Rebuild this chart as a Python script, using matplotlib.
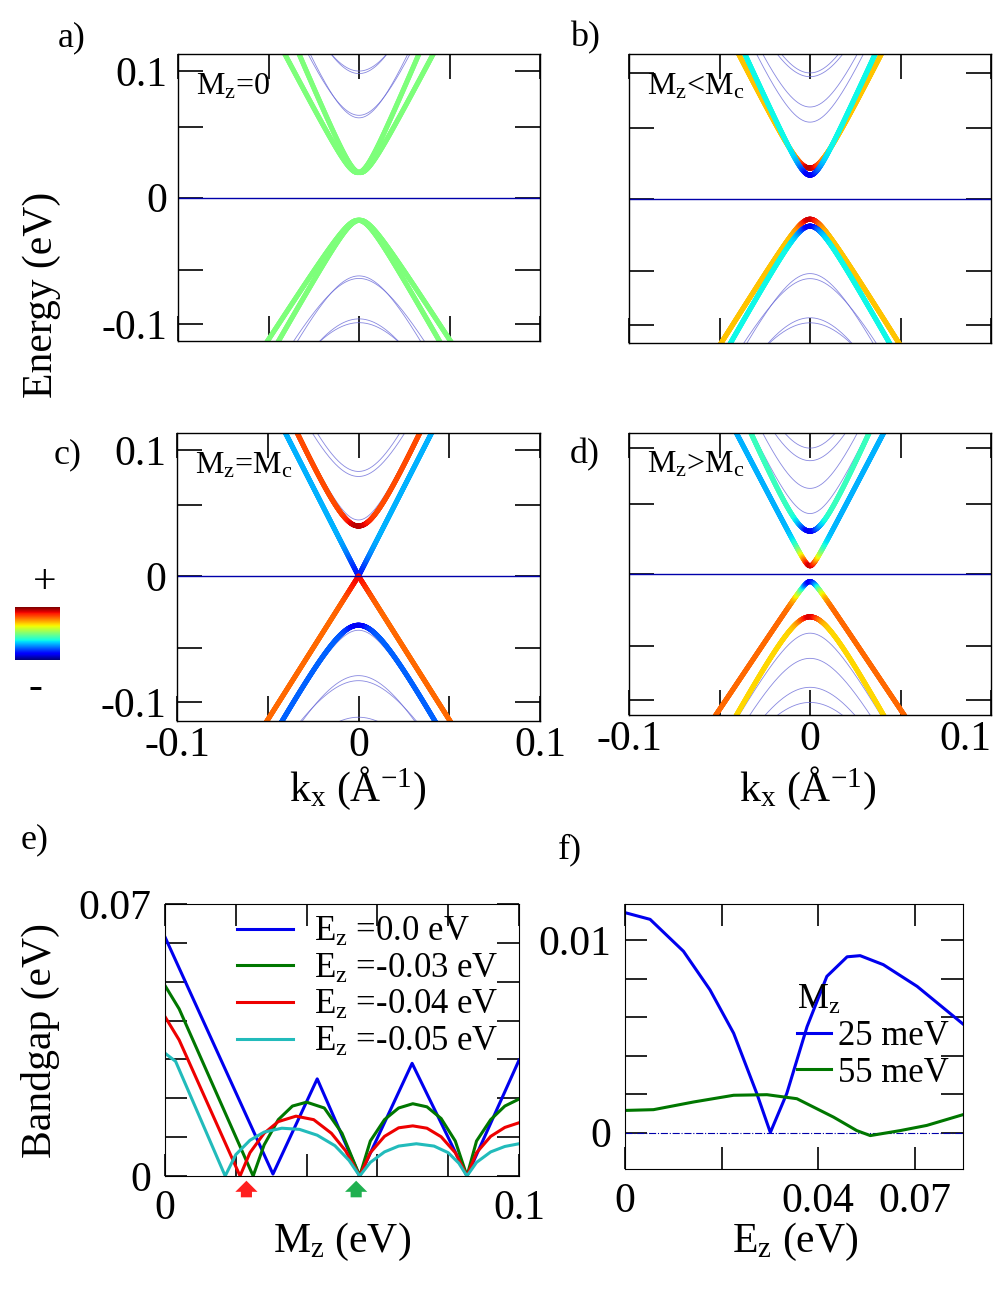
import numpy as np
import matplotlib
matplotlib.use("Agg")
import matplotlib.pyplot as plt
from matplotlib.collections import LineCollection

plt.rcParams['font.family'] = ['Liberation Serif', 'DejaVu Serif']
plt.rcParams['mathtext.fontset'] = 'custom'
plt.rcParams['mathtext.rm'] = 'Liberation Serif'
plt.rcParams['mathtext.it'] = 'Liberation Serif:italic'

W, H = 998, 1292

# ---------------- band data (gap m, velocity v, Rashba a, colour base, colour centre) ----
# panel a
a_cond = [(0.0198, 3.05, 0.32, 0.50, 0.50), (0.0198, 3.05, -0.32, 0.50, 0.50)]
a_val = [(0.018, 2.37, 0.15, 0.50, 0.50), (0.018, 2.37, -0.15, 0.50, 0.50)]
a_thin_c = [(0.098, 3.7), (0.100, 3.5), (0.063, 3.5), (0.065, 3.3)]
a_thin_v = [(0.062, 2.8), (0.064, 2.6), (0.096, 2.8), (0.099, 2.6)]
# panel b
b_cond = [(0.0246, 2.85, 0.0, 0.70, 0.95), (0.019, 3.15, 0.0, 0.37, 0.10)]
b_val = [(0.0159, 2.30, 0.0, 0.70, 0.93), (0.0214, 2.55, 0.0, 0.37, 0.10)]
b_thin_c = [(0.100, 3.6), (0.097, 3.4), (0.073, 3.4), (0.061, 3.3)]
b_thin_v = [(0.059, 2.8), (0.063, 2.6), (0.094, 2.8), (0.098, 2.6)]
# panel c
c_cond = [(0.0, 2.82, 0.0, 0.30, 0.15), (0.0397, 3.15, 0.0, 0.83, 0.95)]
c_val = [(0.0, 2.28, 0.0, 0.80, 0.90), (0.039, 2.57, 0.0, 0.22, 0.10)]
c_thin_c = [(0.083, 3.4), (0.079, 3.2), (0.0445, 3.2)]
c_thin_v = [(0.043, 2.6), (0.079, 2.7), (0.083, 2.5), (0.112, 2.6)]
# panel d
d_cond = [(0.0065, 2.75, 0.0, 0.30, 0.93), (0.034, 3.27, 0.0, 0.42, 0.10)]
d_val = [(0.006, 2.15, 0.0, 0.80, 0.12), (0.034, 2.63, 0.0, 0.68, 0.92)]
d_thin_c = [(0.100, 3.6), (0.090, 3.4), (0.068, 3.4), (0.048, 3.2)]
d_thin_v = [(0.047, 2.6), (0.067, 2.7), (0.090, 2.7), (0.102, 2.6)]

panel_letters = ['a)', 'b)', 'c)', 'd)', 'e)', 'f)']
panel_texts = [r'M$_\mathrm{z}$=0', r'M$_\mathrm{z}$<M$_\mathrm{c}$',
               r'M$_\mathrm{z}$=M$_\mathrm{c}$', r'M$_\mathrm{z}$>M$_\mathrm{c}$']

# ---------------- panel e data ----------------
e_labels = [r'E$_\mathrm{z}$ =0.0 eV', r'E$_\mathrm{z}$ =-0.03 eV',
            r'E$_\mathrm{z}$ =-0.04 eV', r'E$_\mathrm{z}$ =-0.05 eV']
e_colors = ['#0000ee', '#007700', '#ee0000', '#22bbbb']
e_blue_x = [0, 0.0305, 0.043, 0.055, 0.0698, 0.0853, 0.1]
e_blue_y = [0.0615, 0.0005, 0.025, 0.0, 0.029, 0.0, 0.0298]
e_green_x = [0, 0.004, 0.0249, 0.028, 0.032, 0.036, 0.040, 0.045, 0.050, 0.055,
             0.058, 0.062, 0.066, 0.070, 0.074, 0.078, 0.082, 0.0853, 0.088, 0.092, 0.096, 0.1]
e_green_y = [0.049, 0.043, 0.0, 0.008, 0.0145, 0.018, 0.019, 0.0175, 0.011, 0.0,
             0.009, 0.0145, 0.0175, 0.0186, 0.0178, 0.0148, 0.009, 0.0, 0.009, 0.0145, 0.018, 0.0198]
e_red_x = [0, 0.004, 0.0212, 0.024, 0.028, 0.032, 0.037, 0.042, 0.047, 0.051, 0.055,
           0.058, 0.062, 0.066, 0.070, 0.074, 0.078, 0.082, 0.0853, 0.088, 0.092, 0.096, 0.1]
e_red_y = [0.041, 0.035, 0.0, 0.006, 0.011, 0.014, 0.0154, 0.0145, 0.011, 0.0065, 0.0,
           0.006, 0.0102, 0.0124, 0.0129, 0.0123, 0.0101, 0.006, 0.0, 0.006, 0.0102, 0.0125, 0.0137]
e_cyan_x = [0, 0.003, 0.017, 0.020, 0.024, 0.028, 0.033, 0.038, 0.043, 0.048, 0.052, 0.055,
            0.058, 0.062, 0.066, 0.071, 0.076, 0.080, 0.083, 0.0853, 0.088, 0.092, 0.096, 0.1]
e_cyan_y = [0.0316, 0.0295, 0.0, 0.0055, 0.0092, 0.0113, 0.0123, 0.012, 0.0105, 0.0078, 0.004, 0.0,
            0.0035, 0.0062, 0.0077, 0.0083, 0.0077, 0.006, 0.0033, 0.0, 0.0035, 0.0062, 0.0076, 0.0083]
e_arrow_x = [0.023, 0.054]
e_arrow_c = ['#ff2020', '#20b050']

# ---------------- panel f data ----------------
f_labels = ['25 meV', '55 meV']
f_colors = ['#0000ee', '#007700']
f_blue_x = [0, 0.0052, 0.0121, 0.0176, 0.0225, 0.0273, 0.0301, 0.0335, 0.0377, 0.0418,
            0.046, 0.0487, 0.0535, 0.0605, 0.070]
f_blue_y = [0.01145, 0.0111, 0.00944, 0.00743, 0.00517, 0.00203, 0.0, 0.00203, 0.00551, 0.00813,
            0.00915, 0.00921, 0.00874, 0.00761, 0.00565]
f_green_x = [0, 0.0059, 0.0142, 0.0225, 0.0294, 0.0356, 0.0432, 0.048, 0.0508, 0.057, 0.0625, 0.070]
f_green_y = [0.00115, 0.00119, 0.00159, 0.00194, 0.00197, 0.00176, 0.0008, 0.0001, -0.00016,
             0.0001, 0.00037, 0.00093]

FS = 30


def rect(x0, y0, x1, y1):
    return [x0 / W, 1 - y1 / H, (x1 - x0) / W, (y1 - y0) / H]


fig = plt.figure(figsize=(W / 100, H / 100), dpi=100)
cmap = plt.get_cmap('jet')
k = np.linspace(-0.1, 0.1, 1201)


def band(ax, p, sign):
    m, v, a, c0, c1 = p
    E = sign * np.sqrt(m ** 2 + (v * k) ** 2) + a * k
    col = c0 + (c1 - c0) * np.exp(-(k / 0.006) ** 2)
    pts = np.column_stack([k, E]).reshape(-1, 1, 2)
    segs = np.concatenate([pts[:-1], pts[1:]], axis=1)
    lc = LineCollection(segs, cmap=cmap, norm=plt.Normalize(0, 1), linewidths=3.6,
                        capstyle='round', alpha=0.7 if c0 == c1 else 1.0)
    lc.set_array(0.5 * (col[:-1] + col[1:]))
    ax.add_collection(lc)


def thin(ax, p, sign):
    m, v = p
    ax.plot(k, sign * np.sqrt(m ** 2 + (v * k) ** 2), color='#6a6ad8', lw=0.6, alpha=0.8)


boxes = [rect(178, 54, 540, 341), rect(629, 54, 991, 343),
         rect(177, 433, 540, 721), rect(629, 433, 991, 715)]
ylims = [(-0.1135, 0.1135), (-0.114, 0.115), (-0.115, 0.1135), (-0.112, 0.112)]
conds = [a_cond, b_cond, c_cond, d_cond]
vals = [a_val, b_val, c_val, d_val]
tcs = [a_thin_c, b_thin_c, c_thin_c, d_thin_c]
tvs = [a_thin_v, b_thin_v, c_thin_v, d_thin_v]

for i in range(4):
    ax = fig.add_axes(boxes[i])
    for p in tcs[i]:
        thin(ax, p, 1)
    for p in tvs[i]:
        thin(ax, p, -1)
    for p in conds[i]:
        band(ax, p, 1)
    for p in vals[i]:
        band(ax, p, -1)
    ax.axhline(0, color='#0000aa', lw=1)
    ax.set_xlim(-0.1, 0.1)
    ax.set_ylim(*ylims[i])
    ax.set_xticks([-0.1, -0.05, 0, 0.05, 0.1])
    ax.set_yticks([-0.1, -0.057, 0, 0.056, 0.1])
    ax.tick_params(direction='in', length=18, width=1.2, top=True, right=True,
                   labelsize=FS, pad=8)
    ax.tick_params(axis='x', pad=4)
    if i in (0, 2):
        ax.set_yticklabels(['-0.1', '', '0', '', '0.1'])
    else:
        ax.set_yticklabels([])
    if i in (2, 3):
        ax.set_xticklabels(['-0.1', '', '0', '', '0.1'])
        if i == 3:
            ax.get_xticklabels()[-1].set_ha('right')
    else:
        ax.set_xticklabels([])
    for s in ax.spines.values():
        s.set_linewidth(1.0)
    ax.text(0.05, 0.86, panel_texts[i], transform=ax.transAxes, fontsize=23)

# panel e
ax = fig.add_axes(rect(165, 904, 519, 1176))
for xs, ys, c, lab in zip([e_blue_x, e_green_x, e_red_x, e_cyan_x],
                          [e_blue_y, e_green_y, e_red_y, e_cyan_y], e_colors, e_labels):
    ax.plot(xs, ys, color=c, lw=2.2, label=lab)
ax.set_xlim(0, 0.1)
ax.set_ylim(0, 0.07)
ax.set_xticks(np.arange(0, 0.1001, 0.02))
ax.set_xticklabels(['0', '', '', '', '', '0.1'])
ax.set_yticks(np.arange(0, 0.0701, 0.01))
ax.set_yticklabels(['0', '', '', '', '', '', '', '0.07'])
ax.tick_params(direction='in', length=16, width=1.2, top=True, right=True, labelsize=FS, pad=10)
ax.legend(loc='upper right', fontsize=25, frameon=False, handlelength=1.6, handletextpad=0.6,
          labelspacing=0.1, borderaxespad=0.1, bbox_to_anchor=(0.99, 1.02))
for x, c in zip(e_arrow_x, e_arrow_c):
    ax.annotate('', xy=(x, -0.0005), xytext=(x, -0.0062), xycoords='data',
                arrowprops=dict(arrowstyle='simple,head_width=1.6,head_length=0.8,tail_width=0.8',
                                color=c, lw=0), annotation_clip=False)

# panel f
ax = fig.add_axes(rect(625, 904, 963, 1169))
ax.axhline(0, color='#0000aa', lw=0.8, ls='-.')
ax.plot(f_blue_x, f_blue_y, color=f_colors[0], lw=2.2, label=f_labels[0])
ax.plot(f_green_x, f_green_y, color=f_colors[1], lw=2.2, label=f_labels[1])
ax.set_xlim(0, 0.07)
ax.set_ylim(-0.0019, 0.0119)
ax.set_xticks([0, 0.02, 0.04, 0.06])
ax.set_xticklabels(['0', '', '0.04', '0.07'])
ax.set_yticks(np.arange(0, 0.01001, 0.002))
ax.set_yticklabels(['0', '', '', '', '', '0.01'])
ax.tick_params(direction='in', length=16, width=1.2, top=True, right=True, labelsize=FS, pad=10)
ax.legend(loc='center right', fontsize=25, frameon=False, handlelength=1.0, handletextpad=0.2,
          labelspacing=0.1, borderaxespad=0.0, bbox_to_anchor=(1.0, 0.5),
          title=r'M$_\mathrm{z}$', title_fontsize=25, alignment='left')

# colour bar
cax = fig.add_axes(rect(15, 607, 60, 660))
cax.imshow(np.linspace(1, 0, 100).reshape(-1, 1), aspect='auto', cmap='jet')
cax.axis('off')
fig.text(45 / W, 1 - 583 / H, '+', fontsize=30, ha='center', va='center')
fig.text(35 / W, 1 - 688 / H, '-', fontsize=30, ha='center', va='center')

# labels
letter_pos = [(72, 38), (585, 38), (68, 455), (585, 455), (35, 840), (570, 850)]
for t, (x, y) in zip(panel_letters, letter_pos):
    fig.text(x / W, 1 - y / H, t, fontsize=26, ha='center', va='center')
fig.text(42 / W, 1 - 295 / H, 'Energy (eV)', fontsize=FS, rotation=90, ha='center', va='center')
fig.text(40 / W, 1 - 1040 / H, 'Bandgap (eV)', fontsize=FS, rotation=90, ha='center', va='center')
fig.text(358 / W, 1 - 788 / H, r'k$_\mathrm{x}$ (Å$^\mathrm{-1}$)', fontsize=FS, ha='center', va='center')
fig.text(808 / W, 1 - 788 / H, r'k$_\mathrm{x}$ (Å$^\mathrm{-1}$)', fontsize=FS, ha='center', va='center')
fig.text(342 / W, 1 - 1242 / H, r'M$_\mathrm{z}$ (eV)', fontsize=FS, ha='center', va='center')
fig.text(795 / W, 1 - 1242 / H, r'E$_\mathrm{z}$ (eV)', fontsize=FS, ha='center', va='center')

fig.savefig('out.png', dpi=100)
